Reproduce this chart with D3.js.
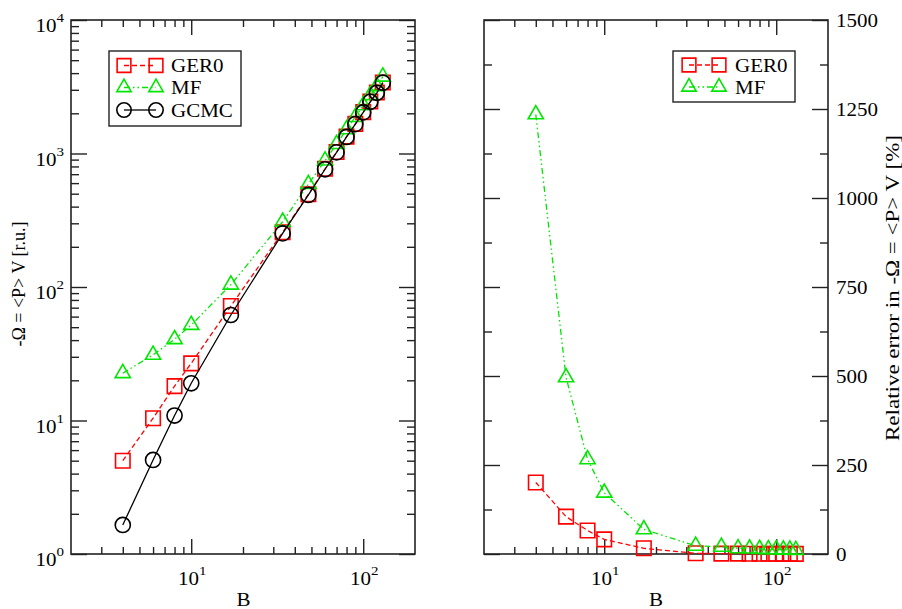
<!DOCTYPE html>
<html><head><meta charset="utf-8">
<script src="https://cdn.jsdelivr.net/npm/d3@7"></script>
<style>body{margin:0;background:#fff}svg{display:block}text{font-family:"Liberation Serif","Times New Roman",serif;fill:#000}</style>
</head><body>
<script>
// ---- data ----
const B = [4, 6, 8, 10, 17, 34, 48, 60, 70, 80, 90, 100, 110, 120, 130];
const gcmc = [1.65, 5.06, 10.9, 19.0, 61.7, 252, 489, 762, 1020, 1330, 1660, 2030, 2440, 2850, 3390];
const ger0 = [5.0, 10.4, 18.1, 26.8, 72, 257, 495, 768, 1025, 1337, 1668, 2040, 2450, 2860, 3400];
const mf = [22.6, 31, 40.6, 51.9, 104, 308, 590, 885, 1175, 1515, 1875, 2295, 2735, 3190, 3760];
const ger0Err = [201, 105, 66, 41, 16, 2, 1, 1, 0.6, 0.5, 0.5, 0.5, 0.4, 0.3, 0.3];
const mfErr = [1235, 496, 266, 172, 69, 23, 20, 16, 15, 14, 13, 13, 12, 12, 11];
const xMajor = [10, 100];
const xMinor = [3,4,5,6,7,8,9,20,30,40,50,60,70,80,90];
const yLogMajor = [1, 10, 100, 1000, 10000];
const yRelMajor = [0, 250, 500, 750, 1000, 1250, 1500];
const yRelMinor = [125, 375, 625, 875, 1125, 1375];
const seriesNames = ["GER0", "MF", "GCMC"];

const W = 902, H = 609;
const RED = "#ff0000", GREEN = "#00e600", BLACK = "#000";
const FS = 21, SY = 0.89;
const svg = d3.select("body").append("svg").attr("width", W).attr("height", H);

const yTop = 20, yBot = 554;
const xL = d3.scaleLog().domain([2, 200]).range([71, 415]);
const xR = d3.scaleLog().domain([2, 200]).range([484, 828]);
const yL = d3.scaleLog().domain([1, 10000]).range([yBot, yTop]);
const yR = d3.scaleLinear().domain([0, 1500]).range([yBot, yTop]);

const styles = {
  GER0: {color: RED, dash: "5,3", sym: d3.symbolSquare, size: 210},
  MF: {color: GREEN, dash: "6,3,1.5,3,1.5,3", sym: d3.symbolTriangle, size: 100},
  GCMC: {color: BLACK, dash: null, sym: d3.symbolCircle, size: 180}
};

function txt(x, y, anchor, size) {
  return svg.append("text").attr("transform", `translate(${x},${y}) scale(1,${SY})`)
    .attr("text-anchor", anchor || "start").attr("font-size", size || FS);
}
function pow10(x, y, anchor, v) {
  const t = txt(x, y, anchor);
  t.append("tspan").text("10");
  t.append("tspan").attr("dy", -11).attr("font-size", 15).text(Math.round(Math.log10(v)));
}

function frameAxes(x, y, logY, minorY) {
  const g = svg.append("g");
  const add = (axis, tx, ty) => {
    const a = g.append("g").attr("transform", `translate(${tx},${ty})`).call(axis);
    a.select(".domain").remove();
    a.selectAll(".tick line").attr("stroke", "#222").attr("stroke-width", 1.4);
    return a;
  };
  const x0 = x.range()[0], x1 = x.range()[1];
  add(d3.axisBottom(x).tickValues(xMinor).tickSize(-7).tickFormat(""), 0, yBot);
  add(d3.axisBottom(x).tickValues(xMajor).tickSize(-15).tickFormat(""), 0, yBot);
  add(d3.axisTop(x).tickValues(xMinor).tickSize(-7).tickFormat(""), 0, yTop);
  add(d3.axisTop(x).tickValues(xMajor).tickSize(-15).tickFormat(""), 0, yTop);
  const majorY = logY ? yLogMajor : yRelMajor;
  add(d3.axisLeft(y).tickValues(minorY).tickSize(-8).tickFormat(""), x0, 0);
  add(d3.axisLeft(y).tickValues(majorY).tickSize(-16).tickFormat(""), x0, 0);
  add(d3.axisRight(y).tickValues(minorY).tickSize(-8).tickFormat(""), x1, 0);
  add(d3.axisRight(y).tickValues(majorY).tickSize(-16).tickFormat(""), x1, 0);
  g.append("rect").attr("x", x0).attr("y", yTop).attr("width", x1 - x0).attr("height", yBot - yTop)
    .attr("fill", "none").attr("stroke", "#222").attr("stroke-width", 1.6);
  xMajor.forEach(v => pow10(x(v) + 1, 585, "middle", v));
}

function logMinors() {
  const out = [];
  for (let e = 0; e < 4; e++) for (let m = 2; m <= 9; m++) out.push(m * Math.pow(10, e));
  return out;
}

function drawSeries(x, y, xs, ys, name) {
  const s = styles[name];
  const pts = xs.map((b, i) => [x(b), y(ys[i])]);
  svg.append("path").attr("d", d3.line()(pts)).attr("fill", "none")
    .attr("stroke", s.color).attr("stroke-width", 1.3)
    .attr("stroke-dasharray", s.dash);
  svg.append("g").selectAll("path").data(pts).join("path")
    .attr("transform", d => `translate(${d[0]},${d[1]})`)
    .attr("d", d3.symbol().type(s.sym).size(s.size)())
    .attr("fill", "none").attr("stroke", s.color).attr("stroke-width", 1.6);
}

function legend(x0, y0, w, h, names, rowY, symX1, symX2, textX) {
  svg.append("rect").attr("x", x0).attr("y", y0).attr("width", w).attr("height", h)
    .attr("fill", "#fff").attr("stroke", "#222").attr("stroke-width", 1.4);
  names.forEach((n, i) => {
    const s = styles[n], yy = rowY[i];
    svg.append("line").attr("x1", symX1).attr("x2", symX2).attr("y1", yy).attr("y2", yy)
      .attr("stroke", s.color).attr("stroke-width", 1.3).attr("stroke-dasharray", s.dash);
    [symX1, symX2].forEach(sx => svg.append("path").attr("transform", `translate(${sx},${yy})`)
      .attr("d", d3.symbol().type(s.sym).size(s.size * 0.9)())
      .attr("fill", "none").attr("stroke", s.color).attr("stroke-width", 1.6));
    txt(textX, yy + 6.5).text(n);
  });
}

// ---- left panel ----
frameAxes(xL, yL, true, logMinors());
yLogMajor.forEach(v => pow10(64, yL(v) + 12, "end", v));
drawSeries(xL, yL, B, ger0, "GER0");
drawSeries(xL, yL, B, mf, "MF");
drawSeries(xL, yL, B, gcmc, "GCMC");
legend(109, 51, 132, 75, seriesNames, [65.5, 87.5, 110], 124, 156, 171);
txt(243.5, 606, "middle").text("B");
svg.append("text").attr("transform", "translate(25,284) rotate(-90)").attr("text-anchor", "middle")
  .attr("font-size", 18).text("-Ω = <P> V [r.u.]");

// ---- right panel ----
frameAxes(xR, yR, false, yRelMinor);
yRelMajor.forEach(v => txt(836, yR(v) + 7, "start").text(v));
drawSeries(xR, yR, B, ger0Err, "GER0");
drawSeries(xR, yR, B, mfErr, "MF");
legend(673, 51, 122, 51, ["GER0", "MF"], [65, 87], 689, 719, 735);
txt(656, 606, "middle").text("B");
svg.append("text").attr("transform", "translate(899,288) rotate(-90) scale(1,0.78)").attr("text-anchor", "middle")
  .attr("font-size", 23).text("Relative error in -Ω = <P> V [%]");
</script>
</body></html>
